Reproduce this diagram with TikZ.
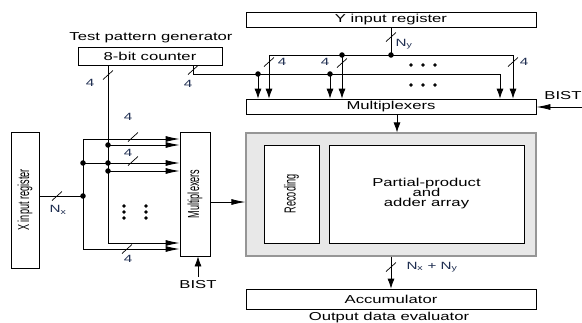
\documentclass[tikz,border=0pt]{standalone}
\usepackage{fontspec}
\setmainfont{Liberation Sans}
\newfontfamily\widefont[FakeStretch=1.45]{Liberation Sans}
\newfontfamily\narrowfont[FakeStretch=0.57]{Liberation Sans}
\usetikzlibrary{arrows.meta}
\definecolor{labelblue}{RGB}{30,45,80}
\definecolor{coregray}{RGB}{232,232,232}
\definecolor{coreedge}{RGB}{150,150,150}
\tikzset{
  block/.style={draw, fill=white, line width=0.8pt, inner sep=0pt,
    font=\widefont\fontsize{11.5}{12}\selectfont},
  vblock/.style={block, font=\narrowfont\fontsize{16}{17}\selectfont},
  bus/.pic={\draw[line width=0.7pt] (-5,4.5) -- (5,-4.5);},
  hto/.style={-{Latex[length=14pt,width=6pt]}},
  vto/.style={-{Latex[length=10pt,width=7pt]}},
  lbl/.style={font=\widefont\fontsize{10.5}{11}\selectfont, text=labelblue, inner sep=0pt},
  txt/.style={font=\widefont\fontsize{11.5}{12}\selectfont, inner sep=0pt},
}
\begin{document}
\begin{tikzpicture}[x=1pt, y=-1pt, line width=0.8pt]
    \useasboundingbox (0,0) rectangle (582,322);

    % Bloecke
    \node[block, minimum width=144pt, minimum height=18pt] (ctr) at (150,56) {8-bit counter};
    \node[txt] (tpg) at (151,38) {Test pattern generator};
    \node[block, minimum width=290pt, minimum height=15pt] (yreg) at (391,19.5) {Y input register};
    \node[block, minimum width=290pt, minimum height=15pt] (ymux) at (391,106.5) {Multiplexers};
    \node[draw=coreedge, fill=coregray, line width=1.2pt, minimum width=290pt, minimum height=123pt] (core) at (391,194.5) {};
    \node[vblock, minimum width=55pt, minimum height=98pt] (rec) at (291.5,194) {\rotatebox{90}{Recoding}};
    \node[block, minimum width=195pt, minimum height=98pt, align=center] (ppa) at (426.5,194)
      {Partial-product\\[-2pt] and\\[-2pt] adder array};
    \node[block, minimum width=290pt, minimum height=20pt] (acc) at (391,299) {Accumulator};
    \node[txt] (ode) at (389,318) {Output data evaluator};
    \node[vblock, minimum width=28pt, minimum height=136pt] (xreg) at (25,200) {\rotatebox{90}{X input register}};
    \node[vblock, minimum width=30pt, minimum height=124pt] (xmux) at (195,194) {\rotatebox{90}{Multiplexers}};

    % Variablen fuer die Busse
    \coordinate (xj) at (83,196);
    \coordinate (xt) at (83,139);
    \coordinate (xm) at (83,163);
    \coordinate (xb) at (83,249);
    \coordinate (cv) at (108,65);
    \coordinate (c1) at (108,145);
    \coordinate (cx) at (108,163);
    \coordinate (c2) at (108,171);
    \coordinate (c3) at (108,243);
    \coordinate (cr) at (193,65);
    \coordinate (cb) at (193,74);
    \coordinate (d1) at (258,74);
    \coordinate (d2) at (330,74);
    \coordinate (ce) at (500,74);
    \coordinate (yj) at (391,55);
    \coordinate (ya) at (269,55);
    \coordinate (yc) at (342,55);
    \coordinate (yb) at (513,55);
    \coordinate (bx) at (198,277);
    \coordinate (by) at (582,107);
    \coordinate (mo) at (210,202);
    \coordinate (mi) at (397,114);

    % X-Seite
    \draw (xreg.east |- xj) -- (xj);
    \draw (xb) -- (xt);
    \draw[hto] (xt) -- (xt -| xmux.west);
    \draw[hto] (xm) -- (xm -| xmux.west);
    \draw[hto] (xb) -- (xb -| xmux.west);
    \draw (cv) -- (c3);
    \draw[hto] (c1) -- (c1 -| xmux.west);
    \draw[hto] (c2) -- (c2 -| xmux.west);
    \draw[hto] (c3) -- (c3 -| xmux.west);

    % Y-Seite
    \draw (cr) -- (cb) -- (ce);
    \draw[vto] (d1) -- (d1 |- ymux.north);
    \draw[vto] (d2) -- (d2 |- ymux.north);
    \draw[vto] (ce) -- (ce |- ymux.north);
    \draw (yreg.south) -- (yj);
    \draw (ya) -- (yb);
    \draw[vto] (ya) -- (ya |- ymux.north);
    \draw[vto] (yc) -- (yc |- ymux.north);
    \draw[vto] (yb) -- (yb |- ymux.north);

    % Verbindungen zum Kern
    \draw[hto] (mo) -- (mo -| core.west);
    \draw[vto] (mi) -- (mi |- core.north);
    \draw[vto] (core.south) -- (acc.north);
    \draw[vto] (bx) -- (bx |- xmux.south);
    \draw[hto] (by) -- (by -| ymux.east);

    % Knotenpunkte
    \foreach \p in {xj,xm,c1,cx,c2,d1,d2,yj,yc}
      \filldraw (\p) circle (2.3pt);

    % Punkte
    \foreach \x in {411,423,435} {
      \filldraw (\x,65) circle (1.4pt);
      \filldraw (\x,85) circle (1.4pt);
    }
    \foreach \y in {206,212,218} {
      \filldraw (124,\y) circle (1.3pt);
      \filldraw (146,\y) circle (1.3pt);
    }

    % Busbreiten
    \pic at (57,196) {bus};
    \pic at (108,75) {bus};
    \pic at (193,70) {bus};
    \pic at (133,137) {bus};
    \pic at (133,161) {bus};
    \pic at (127,249) {bus};
    \pic at (269,62) {bus};
    \pic at (342,63) {bus};
    \pic at (513,62) {bus};
    \pic at (391,37) {bus};
    \pic at (391,267) {bus};

    \node[lbl] (wx) at (58,210) {N\textsubscript{x}};
    \node[lbl] (w1) at (90,83) {4};
    \node[lbl] (w2) at (188,84) {4};
    \node[lbl] (w3) at (128,117) {4};
    \node[lbl] (w4) at (128,153) {4};
    \node[lbl] (w5) at (128,259) {4};
    \node[lbl] (w6) at (282,62) {4};
    \node[lbl] (w7) at (325,62) {4};
    \node[lbl] (w8) at (524,62) {4};
    \node[lbl] (wy) at (404,44) {N\textsubscript{y}};
    \node[lbl] (wp) at (432,267) {N\textsubscript{x} + N\textsubscript{y}};
    \node[txt] (bist1) at (198,285) {BIST};
    \node[txt] (bist2) at (563,96) {BIST};
\end{tikzpicture}
\end{document}
